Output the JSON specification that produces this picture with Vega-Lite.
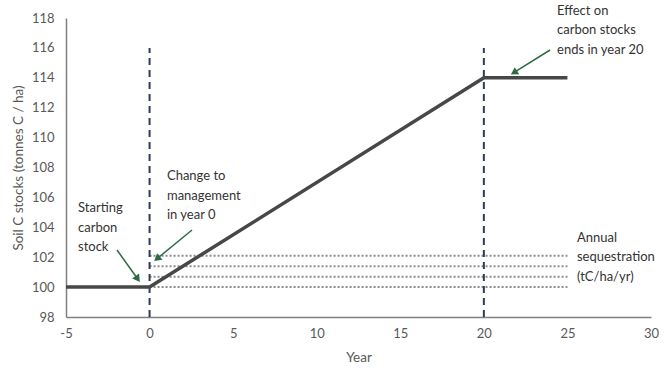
{
  "$schema": "https://vega.github.io/schema/vega-lite/v6.json",
  "width": 585,
  "height": 299,
  "autosize": {"type": "none"},
  "padding": {"left": 66, "top": 18, "right": 16, "bottom": 60},
  "background": "white",
  "config": {
    "view": {"stroke": null},
    "font": "Lato",
    "axis": {"grid": false, "ticks": false, "domainColor": "#7f7f7f", "domainWidth": 1.5, "labelColor": "#595959", "titleColor": "#595959", "labelFont": "Lato", "titleFont": "Lato", "labelFontSize": 13, "titleFontSize": 13.5, "titleFontWeight": "normal", "labelOverlap": false, "labelFlush": false, "labelBound": false}
  },
  "datasets": {
    "stock": [
      {"year": -5, "stock": 100},
      {"year": 0, "stock": 100},
      {"year": 20, "stock": 114},
      {"year": 25, "stock": 114}
    ],
    "vlines": [
      {"year": 0, "y1": 98, "y2": 116},
      {"year": 20, "y1": 98, "y2": 116}
    ],
    "seq": [
      {"x1": 0, "x2": 25, "level": 100},
      {"x1": 0, "x2": 25, "level": 100.7},
      {"x1": 0, "x2": 25, "level": 101.4},
      {"x1": 0, "x2": 25, "level": 102.1}
    ],
    "arrows": [
      {"id": "a1", "xs": -1.95, "ys": 102.48, "xe": -0.75, "ye": 100.61},
      {"id": "a2", "xs": 2.54, "ys": 103.82, "xe": 0.5, "ye": 101.95},
      {"id": "a3", "xs": 23.96, "ys": 115.86, "xe": 21.86, "ye": 114.39}
    ],
    "notes": [
      {"x": -4.28, "y": 105.69, "label": ["Starting", "carbon", "stock"]},
      {"x": 1.04, "y": 107.83, "label": ["Change to", "management", "in year 0"]},
      {"x": 24.38, "y": 118.87, "label": ["Effect on", "carbon stocks", "ends in year 20"]},
      {"x": 25.57, "y": 103.69, "label": ["Annual", "sequestration", "(tC/ha/yr)"]}
    ]
  },
  "layer": [
    {
      "data": {"name": "seq"},
      "mark": {"type": "rule", "color": "#8c8c8c", "strokeWidth": 2, "strokeDash": [2, 2]},
      "encoding": {
        "x": {"field": "x1", "type": "quantitative", "scale": {"domain": [-5, 30], "nice": false}, "axis": {"values": [-5, 0, 5, 10, 15, 20, 25, 30], "labelExpr": "'' + datum.value", "title": "Year", "labelPadding": 10, "titlePadding": 10, "labelOverlap": false}},
        "x2": {"field": "x2"},
        "y": {"field": "level", "type": "quantitative", "scale": {"domain": [98, 118], "nice": false, "zero": false}, "axis": {"values": [98, 100, 102, 104, 106, 108, 110, 112, 114, 116, 118], "tickCount": 11, "title": "Soil C stocks (tonnes C / ha)", "labelPadding": 12, "titlePadding": 6, "labelOverlap": false}}
      }
    },
    {
      "data": {"name": "vlines"},
      "mark": {"type": "rule", "color": "#2e3c55", "strokeWidth": 2, "strokeDash": [7, 5]},
      "encoding": {
        "x": {"field": "year", "type": "quantitative", "axis": {"values": [-5, 0, 5, 10, 15, 20, 25, 30], "labelExpr": "'' + datum.value", "title": "Year", "labelPadding": 10, "titlePadding": 10, "labelOverlap": false}},
        "y": {"field": "y1", "type": "quantitative", "axis": {"values": [98, 100, 102, 104, 106, 108, 110, 112, 114, 116, 118], "tickCount": 11, "title": "Soil C stocks (tonnes C / ha)", "labelPadding": 12, "titlePadding": 6, "labelOverlap": false}},
        "y2": {"field": "y2"}
      }
    },
    {
      "data": {"name": "stock"},
      "mark": {"type": "line", "color": "#474747", "strokeWidth": 3.5},
      "encoding": {
        "x": {"field": "year", "type": "quantitative", "axis": {"values": [-5, 0, 5, 10, 15, 20, 25, 30], "labelExpr": "'' + datum.value", "title": "Year", "labelPadding": 10, "titlePadding": 10, "labelOverlap": false}},
        "y": {"field": "stock", "type": "quantitative", "axis": {"values": [98, 100, 102, 104, 106, 108, 110, 112, 114, 116, 118], "tickCount": 11, "title": "Soil C stocks (tonnes C / ha)", "labelPadding": 12, "titlePadding": 6, "labelOverlap": false}}
      }
    },
    {
      "data": {"name": "arrows"},
      "mark": {"type": "rule", "color": "#2e6b45", "strokeWidth": 1.5},
      "encoding": {
        "x": {"field": "xs", "type": "quantitative"},
        "y": {"field": "ys", "type": "quantitative"},
        "x2": {"field": "xe"},
        "y2": {"field": "ye"}
      }
    },
    {
      "data": {"name": "arrows"},
      "transform": [{"filter": "datum.id == 'a1'"}],
      "mark": {"type": "point", "shape": "triangle", "filled": true, "color": "#2e6b45", "size": 70, "angle": 144.5, "opacity": 1},
      "encoding": {
        "x": {"field": "xe", "type": "quantitative"},
        "y": {"field": "ye", "type": "quantitative"}
      }
    },
    {
      "data": {"name": "arrows"},
      "transform": [{"filter": "datum.id == 'a2'"}],
      "mark": {"type": "point", "shape": "triangle", "filled": true, "color": "#2e6b45", "size": 70, "angle": 230.5, "opacity": 1},
      "encoding": {
        "x": {"field": "xe", "type": "quantitative"},
        "y": {"field": "ye", "type": "quantitative"}
      }
    },
    {
      "data": {"name": "arrows"},
      "transform": [{"filter": "datum.id == 'a3'"}],
      "mark": {"type": "point", "shape": "triangle", "filled": true, "color": "#2e6b45", "size": 70, "angle": 237.8, "opacity": 1},
      "encoding": {
        "x": {"field": "xe", "type": "quantitative"},
        "y": {"field": "ye", "type": "quantitative"}
      }
    },
    {
      "data": {"name": "notes"},
      "mark": {"type": "text", "align": "left", "baseline": "top", "fontSize": 13, "lineHeight": 19.5, "color": "#333333", "font": "Lato", "clip": false},
      "encoding": {
        "x": {"field": "x", "type": "quantitative"},
        "y": {"field": "y", "type": "quantitative"},
        "text": {"field": "label"}
      }
    }
  ]
}
